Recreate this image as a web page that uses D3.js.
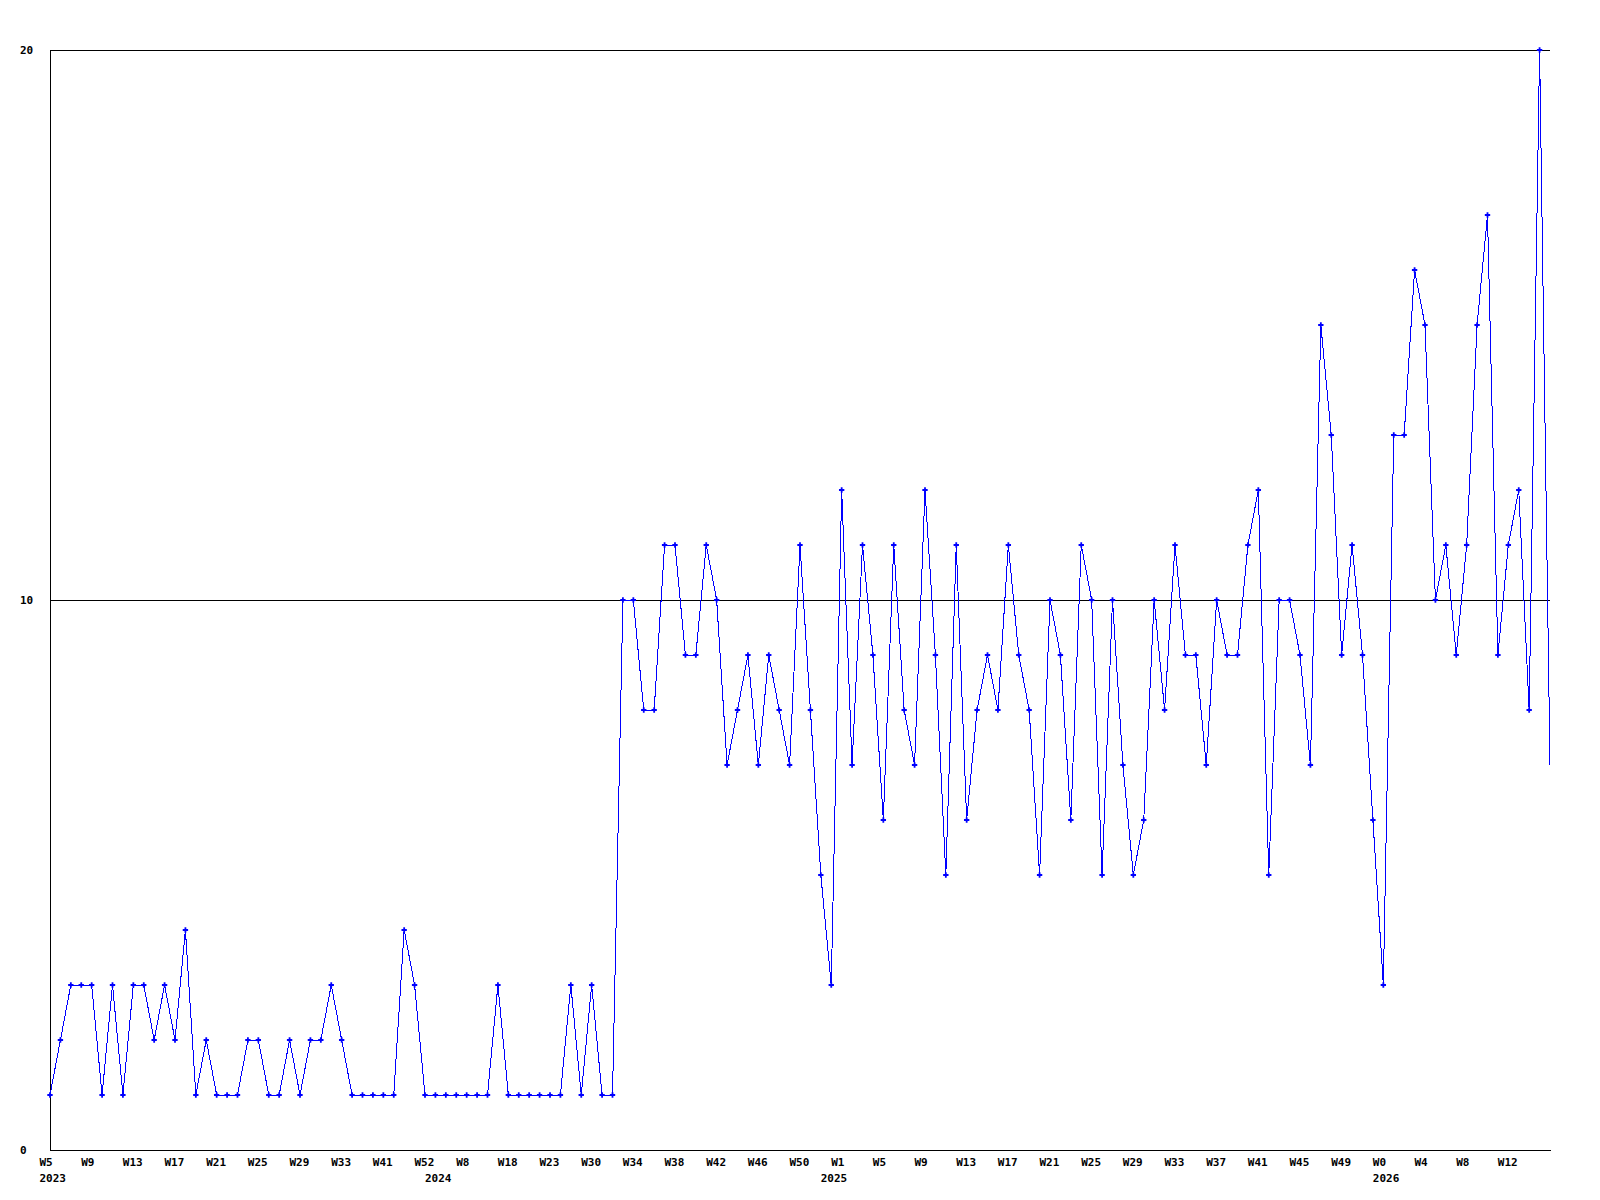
<!DOCTYPE html>
<html>
<head>
<meta charset="utf-8">
<script src="https://cdn.jsdelivr.net/npm/d3@7"></script>
<style>
    body { margin: 0; background: #fff; }
    svg { display: block; }
    .lbl { font-family: "DejaVu Sans Mono", monospace; font-size: 11px; font-weight: bold; fill: #000; }
</style>
</head>
<body>
<script>
// weekly counts, one per point
const values = [
    1, 2, 3, 3, 3, 1, 3, 1, 3, 3,
    2, 3, 2, 4, 1, 2, 1, 1, 1, 2,
    2, 1, 1, 2, 1, 2, 2, 3, 2, 1,
    1, 1, 1, 1, 4, 3, 1, 1, 1, 1,
    1, 1, 1, 3, 1, 1, 1, 1, 1, 1,
    3, 1, 3, 1, 1, 10, 10, 8, 8, 11,
    11, 9, 9, 11, 10, 7, 8, 9, 7, 9,
    8, 7, 11, 8, 5, 3, 12, 7, 11, 9,
    6, 11, 8, 7, 12, 9, 5, 11, 6, 8,
    9, 8, 11, 9, 8, 5, 10, 9, 6, 11,
    10, 5, 10, 7, 5, 6, 10, 8, 11, 9,
    9, 7, 10, 9, 9, 11, 12, 5, 10, 10,
    9, 7, 15, 13, 9, 11, 9, 6, 3, 13,
    13, 16, 15, 10, 11, 9, 11, 15, 17, 9,
    11, 12, 8, 20, 7
];

// one label every 4th point
const weekLabels = ["W5", "W9", "W13", "W17", "W21", "W25", "W29", "W33", "W41", "W52",
    "W8", "W18", "W23", "W30", "W34", "W38", "W42", "W46", "W50", "W1",
    "W5", "W9", "W13", "W17", "W21", "W25", "W29", "W33", "W37", "W41",
    "W45", "W49", "W0", "W4", "W8", "W12"];
const labelStep = 4;

const years = ["2023", "2024", "2025", "2026"];
const yearAt = [0, 37, 75, 128];

const yTicks = [0, 10, 20];

let width = 1600,
    height = 1200,
    margin = {left: 50, right: 50, top: 50, bottom: 50};

let svg = d3.select("body").append("svg")
    .attr("width", width)
    .attr("height", height);

let xScale = d3.scaleLinear()
    .domain([0, values.length - 1])
    .range([margin.left, width - margin.right]);
let yScale = d3.scaleLinear()
    .domain([0, 20])
    .range([height - margin.bottom, margin.top]);

// horizontal lines at 10 and 20
svg.append("g")
    .selectAll("line")
    .data(yTicks.filter(d => d > 0))
    .enter()
    .append("line")
        .attr("x1", xScale(0))
        .attr("x2", xScale(values.length - 1))
        .attr("y1", d => yScale(d) + 0.5)
        .attr("y2", d => yScale(d) + 0.5)
        .attr("stroke", "#000")
        .attr("shape-rendering", "crispEdges");

// x axis, week labels
let tickIdx = weekLabels.map((d, i) => i * labelStep);
let xAxis = d3.axisBottom(xScale)
    .tickValues(tickIdx)
    .tickSize(0)
    .tickSizeOuter(0)
    .tickFormat((d, i) => weekLabels[i]);
let gx = svg.append("g")
    .attr("transform", "translate(0," + yScale(0) + ")")
    .call(xAxis);
gx.select(".domain").attr("stroke", "#000").attr("shape-rendering", "crispEdges");
gx.selectAll("text")
    .attr("class", "lbl")
    .attr("text-anchor", "start")
    .attr("x", -11)
    .attr("y", 16)
    .attr("dy", null);

// year labels
let yearAxis = d3.axisBottom(xScale)
    .tickValues(yearAt)
    .tickSize(0)
    .tickFormat((d, i) => years[i]);
let gyr = svg.append("g")
    .attr("transform", "translate(0," + yScale(0) + ")")
    .call(yearAxis);
gyr.select(".domain").remove();
gyr.selectAll("text")
    .attr("class", "lbl")
    .attr("text-anchor", "start")
    .attr("x", -11)
    .attr("y", 32)
    .attr("dy", null);

// y axis
let yAxis = d3.axisLeft(yScale)
    .tickValues(yTicks)
    .tickSize(0)
    .tickSizeOuter(0);
let gy = svg.append("g")
    .attr("transform", "translate(" + margin.left + ",0)")
    .call(yAxis);
gy.select(".domain").attr("stroke", "#000").attr("shape-rendering", "crispEdges");
gy.selectAll("text")
    .attr("class", "lbl")
    .attr("text-anchor", "start")
    .attr("x", -30)
    .attr("dy", "0.35em");

// series line
let line = d3.line()
    .x((d, i) => xScale(i))
    .y(d => yScale(d));
svg.append("path")
    .datum(values)
    .attr("d", line)
    .attr("fill", "none")
    .attr("stroke", "#0000ff")
    .attr("stroke-width", 1)
    .attr("shape-rendering", "crispEdges");

// point markers (the last point has none)
let marker = d3.symbol(d3.symbolCross, 16);
svg.append("g")
    .selectAll(".pt")
    .data(values.slice(0, -1))
    .enter()
    .append("path")
        .classed("pt", true)
        .attr("d", marker)
        .attr("transform", (d, i) => "translate(" + xScale(i) + "," + yScale(d) + ")")
        .attr("fill", "#0000ff");
</script>
</body>
</html>
